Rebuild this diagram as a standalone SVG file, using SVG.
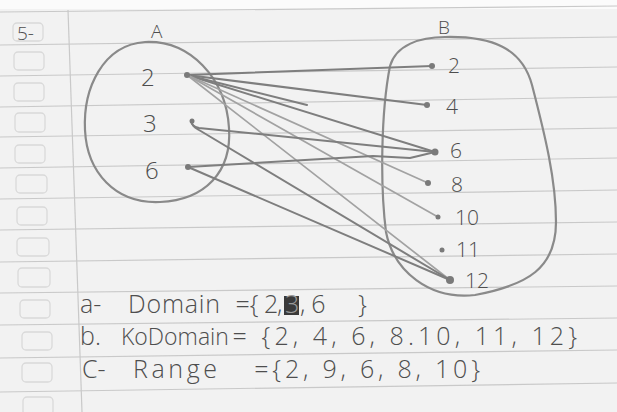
<svg xmlns="http://www.w3.org/2000/svg" width="617" height="412" viewBox="0 0 617 412">
<style>
.paper{fill:#f2f2f2}
.rule{stroke:#c9c9c9;stroke-width:1.2;fill:none}
.box{fill:none;stroke:#d9d9d9;stroke-width:1.3}
.set{fill:none;stroke:#8a8a8a;stroke-width:2.2}
.ln{fill:none;stroke:#7e7e7e;stroke-width:2;stroke-linecap:round;stroke-linejoin:round}
.lt{stroke:#a2a2a2;stroke-width:1.7}
.dot{fill:#7a7a7a}
.t{font-family:"Open Sans","DejaVu Sans",sans-serif;font-weight:300;fill:#4e4e4e}
.hw{font-size:25px}
.num{font-size:21px}
.numA{font-size:24px}
</style>
<rect class="paper" x="0" y="0" width="617" height="412"/>
<rect x="0" y="0" width="617" height="9" fill="#fbfbfb"/>
<g id="paper-lines">
<line class="rule" x1="0" y1="12" x2="617" y2="6"/>
<line class="rule" x1="0" y1="45" x2="617" y2="37"/>
<line class="rule" x1="0" y1="76" x2="617" y2="67"/>
<line class="rule" x1="0" y1="107" x2="617" y2="97"/>
<line class="rule" x1="0" y1="137" x2="617" y2="128"/>
<line class="rule" x1="0" y1="168" x2="617" y2="158"/>
<line class="rule" x1="0" y1="199" x2="617" y2="190"/>
<line class="rule" x1="0" y1="230" x2="617" y2="222"/>
<line class="rule" x1="0" y1="262" x2="617" y2="254"/>
<line class="rule" x1="0" y1="293" x2="617" y2="286"/>
<line class="rule" x1="0" y1="325" x2="617" y2="318"/>
<line class="rule" x1="0" y1="358" x2="617" y2="350"/>
<line class="rule" x1="0" y1="392" x2="617" y2="383"/>
<line class="rule" x1="68" y1="10" x2="82" y2="412"/>
<rect class="box" x="13" y="23" width="30" height="18" rx="4"/>
<rect class="box" x="14" y="52" width="30" height="18" rx="4"/>
<rect class="box" x="14" y="83" width="30" height="18" rx="4"/>
<rect class="box" x="15" y="113" width="30" height="19" rx="4"/>
<rect class="box" x="15" y="145" width="30" height="18" rx="4"/>
<rect class="box" x="16" y="175" width="31" height="18" rx="4"/>
<rect class="box" x="17" y="207" width="30" height="18" rx="4"/>
<rect class="box" x="17" y="238" width="32" height="18" rx="4"/>
<rect class="box" x="18" y="268" width="32" height="19" rx="4"/>
<rect class="box" x="20" y="300" width="30" height="18" rx="4"/>
<rect class="box" x="22" y="332" width="30" height="18" rx="4"/>
<rect class="box" x="22" y="363" width="30" height="19" rx="4"/>
<rect class="box" x="23" y="397" width="30" height="18" rx="4"/>
</g>
<text class="t" x="17" y="40" font-size="19">5-</text>

<g id="setA">
<path class="set" d="M 145 42 C 190 40 226 78 229 128 C 232 172 205 200 160 202 C 115 204 87 172 85 130 C 83 88 103 45 145 42 Z"/>
<text class="t" x="151" y="38" font-size="19">A</text>
</g>
<g id="setB">
<path class="set" d="M 445 37 C 492 36 522 48 532 85 C 545 135 556 180 556 222 C 556 268 528 285 475 295 C 430 300 394 272 386 232 C 380 185 381 112 390 66 C 396 45 420 37 445 37 Z"/>
<text class="t" x="438" y="34" font-size="19">B</text>
</g>

<g id="connectors">
<path class="ln" d="M187 75 L432 66"/>
<path class="ln" d="M187 75 L427 105"/>
<path class="ln" d="M187 75 L307 105"/>
<path class="ln" d="M187 75 L435 152"/>
<path class="ln lt" d="M187 75 L428 183"/>
<path class="ln lt" d="M187 75 L438 217"/>
<path class="ln lt" d="M187 75 L450 280"/>
<path class="ln" d="M192 120 C 190 124 194 127 199 128 L435 152"/>
<path class="ln" d="M192 120 C 191 126 196 128 199 130 L450 280"/>
<path class="ln" d="M188 167 L373 156 L410 158 L435 152"/>
<path class="ln" d="M188 167 L450 280"/>
</g>

<g id="nodeA2"><circle class="dot" cx="187" cy="75" r="3"/><text class="t numA" x="141" y="86">2</text></g>
<g id="nodeA3"><circle class="dot" cx="192" cy="121" r="2.5"/><text class="t numA" x="143" y="132">3</text></g>
<g id="nodeA6"><circle class="dot" cx="188" cy="167" r="3"/><text class="t numA" x="145" y="179">6</text></g>

<g id="nodeB2"><circle class="dot" cx="432" cy="66" r="3"/><text class="t num" x="448" y="73">2</text></g>
<g id="nodeB4"><circle class="dot" cx="427" cy="105" r="3"/><text class="t num" x="446" y="114">4</text></g>
<g id="nodeB6"><circle class="dot" cx="435" cy="152" r="3.5"/><text class="t num" x="450" y="158">6</text></g>
<g id="nodeB8"><circle class="dot" cx="428" cy="183" r="3"/><text class="t num" x="451" y="192">8</text></g>
<g id="nodeB10"><circle class="dot" cx="438" cy="217" r="2.5"/><text class="t num" x="455" y="225">10</text></g>
<g id="nodeB11"><circle class="dot" cx="442" cy="250" r="2.5"/><text class="t num" x="456" y="257">11</text></g>
<g id="nodeB12"><circle class="dot" cx="450" cy="280" r="4"/><text class="t num" x="465" y="288">12</text></g>

<g id="answers">
<rect x="284" y="296" width="15" height="19" fill="#3a3a3a"/>
<text class="t hw" y="313"><tspan x="80">a- </tspan><tspan x="128" textLength="92" lengthAdjust="spacing">Domain</tspan><tspan x="229"> ={</tspan><tspan x="264">2</tspan><tspan x="277">,</tspan><tspan x="285" fill="#9a9a9a">3</tspan><tspan x="300" textLength="38" lengthAdjust="spacing">,6 </tspan><tspan x="358">}</tspan></text>
<text class="t hw" y="345"><tspan x="80">b. </tspan><tspan x="121" font-size="23">KoDomain</tspan><tspan x="222" textLength="355" lengthAdjust="spacing"> = {2, 4, 6, 8.10, 11, 12}</tspan></text>
<text class="t hw" y="378"><tspan x="82">C- </tspan><tspan x="133" textLength="84" lengthAdjust="spacing">Range</tspan><tspan x="244" textLength="236" lengthAdjust="spacing"> ={2, 9, 6, 8, 10}</tspan></text>
</g>
</svg>
